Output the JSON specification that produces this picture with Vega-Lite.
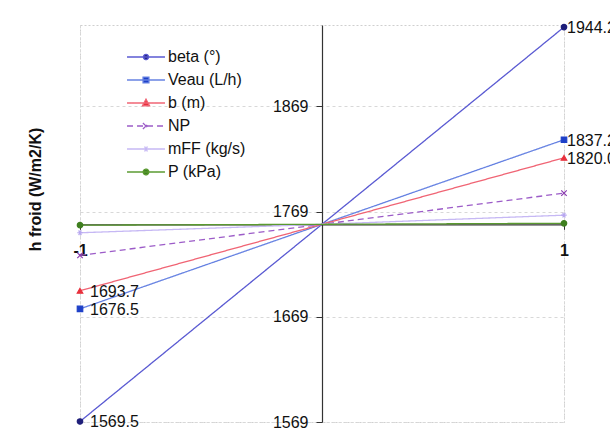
{
  "$schema": "https://vega.github.io/schema/vega-lite/v6.json",
  "width": 484,
  "height": 397,
  "autosize": "none",
  "padding": {"left": 80, "top": 25, "right": 46, "bottom": 9},
  "background": "white",
  "config": {
    "font": "Liberation Sans",
    "view": {"stroke": "#cfcfcf", "strokeDash": [2, 2]},
    "axis": {
      "domainColor": "#333333",
      "tickColor": "#333333",
      "labelColor": "#111111",
      "labelFontSize": 16,
      "labelFont": "Liberation Sans",
      "gridColor": "#d8d8d8",
      "gridDash": [3, 3],
      "domainWidth": 1.2,
      "tickWidth": 1
    }
  },
  "data": {
    "values": [
      {"series": "beta (°)", "x": -1, "h": 1569.5},
      {"series": "beta (°)", "x": 0, "h": 1756.85},
      {"series": "beta (°)", "x": 1, "h": 1944.2},
      {"series": "Veau (L/h)", "x": -1, "h": 1676.5},
      {"series": "Veau (L/h)", "x": 0, "h": 1756.85},
      {"series": "Veau (L/h)", "x": 1, "h": 1837.2},
      {"series": "b (m)", "x": -1, "h": 1693.7},
      {"series": "b (m)", "x": 0, "h": 1756.85},
      {"series": "b (m)", "x": 1, "h": 1820.0},
      {"series": "NP", "x": -1, "h": 1727.3},
      {"series": "NP", "x": 0, "h": 1756.85},
      {"series": "NP", "x": 1, "h": 1786.4},
      {"series": "mFF (kg/s)", "x": -1, "h": 1748.8},
      {"series": "mFF (kg/s)", "x": 0, "h": 1756.85},
      {"series": "mFF (kg/s)", "x": 1, "h": 1765.5},
      {"series": "P (kPa)", "x": -1, "h": 1756.0},
      {"series": "P (kPa)", "x": 0, "h": 1756.85},
      {"series": "P (kPa)", "x": 1, "h": 1757.8}
    ]
  },
  "encoding": {
    "x": {
      "field": "x", "type": "quantitative",
      "scale": {"domain": [-1, 1], "nice": false, "zero": false},
      "axis": {
        "values": [-1, 0, 1], "format": "d", "title": null,
        "labelExpr": "datum.value < 0 ? '-' + abs(datum.value) : datum.label",
        "labelFontWeight": "bold",
        "offset": -197.7, "tickSize": 5, "labelPadding": 13,
        "labelFlush": false, "grid": true
      }
    },
    "y": {
      "field": "h", "type": "quantitative",
      "scale": {"domain": [1569, 1946.2], "nice": false, "zero": false},
      "axis": {
        "values": [1569, 1669, 1769, 1869], "format": "d",
        "offset": -242, "tickSize": 6, "labelPadding": 8, "grid": true,
        "title": "h froid (W/m2/K)", "titleFontSize": 16, "titleFontWeight": "bold",
        "titleColor": "#111111", "titleFont": "Liberation Sans",
        "titleX": -287, "titleY": 164, "titleAngle": -90,
        "titleAlign": "center", "titleBaseline": "middle"
      }
    }
  },
  "layer": [
    {
      "mark": {"type": "line", "strokeWidth": 1.3},
      "encoding": {
        "color": {
          "field": "series", "type": "nominal",
          "scale": {
            "domain": ["beta (°)", "Veau (L/h)", "b (m)", "NP", "mFF (kg/s)", "P (kPa)"],
            "range": ["#5a5ad2", "#6682e2", "#f06474", "#9c5cc8", "#c6b8f4", "#5a9a30"]
          },
          "legend": {
            "title": null,
            "orient": "none",
            "legendX": 58,
            "legendY": 24,
            "padding": 0,
            "symbolSize": 90,
            "symbolStrokeWidth": 1.3,
            "labelFontSize": 16,
            "labelColor": "#111111",
            "labelFont": "Liberation Sans",
            "labelOffset": 14,
            "rowPadding": 7,
            "encode": {
              "symbols": {
                "update": {
                  "shape": {"signal": "datum.value === 'beta (°)' ? 'M-4,0L4,0M-0.55,0A0.55,0.55 0 1,1 0.55,0A0.55,0.55 0 1,1 -0.55,0Z' : datum.value === 'Veau (L/h)' ? 'M-4,0L4,0M-0.62,-0.62L0.62,-0.62L0.62,0.62L-0.62,0.62Z' : datum.value === 'b (m)' ? 'M-4,0L4,0M0,-0.8L0.75,0.6L-0.75,0.6Z' : datum.value === 'NP' ? 'M-4,0L4,0M-0.65,-0.65L0.65,0.65M-0.65,0.65L0.65,-0.65' : datum.value === 'mFF (kg/s)' ? 'M-4,0L4,0M-0.6,0L0.6,0M-0.3,-0.52L0.3,0.52M-0.3,0.52L0.3,-0.52' : 'M-4,0L4,0M-0.6,0A0.6,0.6 0 1,1 0.6,0A0.6,0.6 0 1,1 -0.6,0Z'"},
                  "size": {"value": 90},
                  "strokeWidth": {"value": 1.3},
                  "fill": {"signal": "datum.value === 'beta (°)' ? '#1f1f7a' : datum.value === 'Veau (L/h)' ? '#1e40c8' : datum.value === 'b (m)' ? '#e8303c' : datum.value === 'NP' ? '#8a3cb0' : datum.value === 'mFF (kg/s)' ? '#b8a8f0' : '#3f7f1f'"},
                  "opacity": {"value": 1}
                }
              }
            }
          }
        },
        "strokeDash": {
          "field": "series", "type": "nominal",
          "scale": {
            "domain": ["beta (°)", "Veau (L/h)", "b (m)", "NP", "mFF (kg/s)", "P (kPa)"],
            "range": [[1, 0], [1, 0], [1, 0], [6, 4], [1, 0], [1, 0]]
          },
          "legend": null
        },
        "order": {"field": "x", "type": "quantitative"}
      }
    },
    {
      "transform": [{"filter": "datum.x != 0"}],
      "mark": {"type": "point", "filled": true, "size": 30, "strokeWidth": 1.2, "opacity": 1},
      "encoding": {
        "shape": {
          "field": "series", "type": "nominal",
          "sort": ["beta (°)", "Veau (L/h)", "b (m)", "NP", "mFF (kg/s)", "P (kPa)"],
          "scale": {
            "range": ["circle", "square", "triangle-up", "M-1,-1L1,1M-1,1L1,-1", "M-1,0H1M-0.5,-0.87L0.5,0.87M-0.5,0.87L0.5,-0.87", "circle"]
          },
          "legend": null
        },
        "fill": {
          "field": "series", "type": "nominal",
          "sort": ["beta (°)", "Veau (L/h)", "b (m)", "NP", "mFF (kg/s)", "P (kPa)"],
          "scale": {
            "range": ["#1f1f7a", "#1e40c8", "#e8303c", "#8a3cb0", "#b8a8f0", "#3f7f1f"]
          },
          "legend": null
        },
        "stroke": {
          "field": "series", "type": "nominal",
          "sort": ["beta (°)", "Veau (L/h)", "b (m)", "NP", "mFF (kg/s)", "P (kPa)"],
          "scale": {
            "range": ["#1f1f7a", "#1e40c8", "#e8303c", "#8a3cb0", "#b8a8f0", "#3f7f1f"]
          },
          "legend": null
        }
      }
    },
    {
      "transform": [
        {"filter": "datum.x == -1"},
        {"filter": {"field": "series", "oneOf": ["beta (°)", "Veau (L/h)", "b (m)"]}}
      ],
      "mark": {"type": "text", "align": "left", "baseline": "middle", "dx": 10, "dy": 1, "fontSize": 16, "color": "#111111", "font": "Liberation Sans"},
      "encoding": {"text": {"field": "h", "type": "quantitative", "format": ".1f"}}
    },
    {
      "transform": [
        {"filter": "datum.x == 1"},
        {"filter": {"field": "series", "oneOf": ["beta (°)", "Veau (L/h)", "b (m)"]}}
      ],
      "mark": {"type": "text", "align": "left", "baseline": "middle", "dx": 3, "dy": 1, "fontSize": 16, "color": "#111111", "font": "Liberation Sans"},
      "encoding": {"text": {"field": "h", "type": "quantitative", "format": ".1f"}}
    }
  ]
}
